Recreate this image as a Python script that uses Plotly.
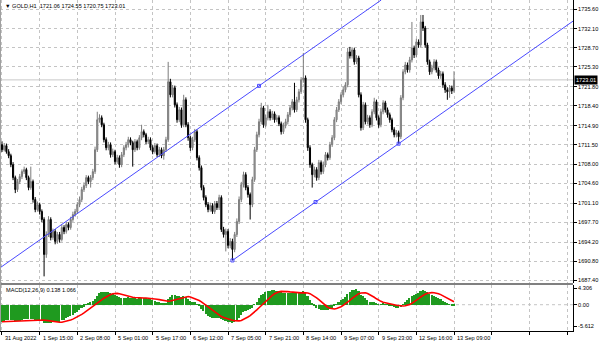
import plotly.graph_objects as go

# ---------------- data ----------------
symbol = "GOLD,H1"
time_labels = ["31 Aug 2022", "1 Sep 15:00", "2 Sep 08:00", "5 Sep 01:00", "5 Sep 17:00",
               "6 Sep 12:00", "7 Sep 05:00", "7 Sep 21:00", "8 Sep 14:00", "9 Sep 07:00",
               "9 Sep 23:00", "12 Sep 16:00", "13 Sep 09:00"]
bars_per_label = 17
price_ticks = [1735.60, 1732.10, 1728.70, 1725.30, 1721.80, 1718.40, 1714.90, 1711.50,
               1708.00, 1704.60, 1701.10, 1697.70, 1694.20, 1690.80, 1687.40]
macd_ticks = [4.306, 0.0, -5.612]
macd_label = "MACD(12,26,9) 0.138 1.066"

opens = [
    1711.50, 1710.61, 1711.33, 1710.26, 1709.55, 1707.95, 1705.65, 1703.53, 1704.95, 1705.83,
    1706.72, 1707.07, 1705.65, 1703.88, 1704.95, 1701.75, 1699.98, 1700.86, 1699.63, 1698.21,
    1692.00, 1695.55, 1698.21, 1695.02, 1696.09, 1694.32, 1695.55, 1694.67, 1696.79, 1696.09,
    1697.32, 1696.79, 1698.21, 1699.09, 1699.63, 1700.86, 1701.75, 1703.53, 1704.24, 1705.65,
    1704.95, 1705.65, 1706.72, 1710.61, 1715.93, 1716.28, 1715.04, 1712.39, 1710.97, 1711.50,
    1709.72, 1710.26, 1708.49, 1709.19, 1707.95, 1709.72, 1710.97, 1711.50, 1712.39, 1711.86,
    1710.61, 1712.04, 1710.97, 1712.74, 1713.81, 1713.27, 1712.04, 1712.39, 1710.97, 1710.26,
    1711.33, 1709.72, 1710.61, 1709.55, 1710.61, 1712.39, 1722.67, 1720.36, 1721.60, 1718.58,
    1715.93, 1717.70, 1715.04, 1719.47, 1715.04, 1712.74, 1710.97, 1712.39, 1713.81, 1709.19,
    1707.42, 1703.88, 1702.11, 1700.86, 1699.98, 1700.69, 1699.63, 1701.04, 1700.33, 1702.11,
    1696.44, 1695.55, 1696.09, 1693.61, 1694.32, 1692.89, 1695.55, 1697.86, 1701.75, 1704.41,
    1706.18, 1703.88, 1702.64, 1700.86, 1705.30, 1710.61, 1713.27, 1715.58, 1718.05, 1715.04,
    1716.28, 1717.35, 1716.28, 1716.99, 1715.93, 1716.28, 1715.22, 1713.81, 1714.87, 1715.58,
    1716.81, 1718.05, 1719.12, 1717.70, 1719.47, 1720.90, 1723.02, 1723.37, 1715.93, 1710.97,
    1707.95, 1706.18, 1707.07, 1705.65, 1708.31, 1706.72, 1707.95, 1709.72, 1709.19, 1711.50,
    1712.74, 1715.93, 1717.70, 1719.12, 1720.36, 1721.25, 1722.13, 1727.98, 1727.27, 1728.33,
    1726.21, 1726.91, 1720.36, 1714.51, 1718.58, 1715.58, 1716.28, 1715.04, 1717.35, 1719.12,
    1716.28, 1715.04, 1717.35, 1718.94, 1717.70, 1716.81, 1715.93, 1714.16, 1713.27, 1713.63,
    1712.92, 1719.83, 1724.44, 1725.67, 1724.79, 1726.56, 1728.69, 1727.44, 1729.76, 1729.22,
    1733.30, 1732.23, 1729.22, 1726.21, 1724.44, 1725.14, 1726.21, 1724.79, 1723.73, 1724.08,
    1722.13, 1721.25, 1720.90, 1721.60, 1721.06]

highs = [
    1712.10, 1711.80, 1711.70, 1710.70, 1709.90, 1708.40, 1706.00, 1705.40, 1706.30, 1707.10,
    1707.60, 1707.40, 1706.00, 1707.60, 1705.30, 1702.20, 1701.40, 1701.20, 1700.00, 1698.60,
    1696.10, 1698.80, 1698.60, 1696.60, 1696.50, 1696.00, 1696.00, 1697.30, 1697.20, 1697.80,
    1697.70, 1698.70, 1699.60, 1700.10, 1701.30, 1702.30, 1704.00, 1704.80, 1706.10, 1706.00,
    1706.10, 1707.20, 1711.15, 1717.35, 1716.90, 1716.70, 1715.40, 1712.80, 1712.00, 1711.90,
    1710.80, 1710.60, 1709.70, 1709.60, 1710.20, 1711.40, 1712.00, 1712.90, 1712.80, 1712.20,
    1712.50, 1712.40, 1713.20, 1715.04, 1714.20, 1713.60, 1712.90, 1712.80, 1711.40, 1711.80,
    1711.70, 1711.10, 1711.00, 1711.10, 1712.90, 1726.21, 1723.20, 1722.10, 1722.00, 1719.00,
    1718.20, 1718.10, 1720.36, 1719.90, 1715.50, 1713.10, 1712.90, 1714.30, 1714.20, 1709.60,
    1707.80, 1704.30, 1702.50, 1701.30, 1701.20, 1701.10, 1701.50, 1701.50, 1702.60, 1702.50,
    1696.90, 1696.60, 1696.50, 1694.90, 1694.80, 1696.00, 1698.40, 1702.30, 1704.90, 1706.70,
    1706.60, 1704.30, 1703.00, 1705.80, 1711.10, 1713.80, 1716.10, 1718.94, 1718.40, 1716.80,
    1718.58, 1717.80, 1717.50, 1717.40, 1716.80, 1716.70, 1715.60, 1715.40, 1716.10, 1717.30,
    1718.50, 1719.60, 1722.49, 1720.00, 1721.40, 1723.50, 1727.80, 1723.80, 1716.30, 1711.40,
    1708.30, 1707.60, 1707.50, 1708.80, 1708.70, 1708.50, 1710.20, 1710.10, 1712.00, 1713.20,
    1716.40, 1718.20, 1719.60, 1720.80, 1721.80, 1722.60, 1728.69, 1728.87, 1728.80, 1728.70,
    1727.40, 1727.30, 1720.80, 1719.10, 1719.00, 1716.80, 1716.70, 1717.80, 1719.83, 1719.50,
    1716.70, 1717.90, 1719.40, 1719.30, 1718.10, 1717.20, 1716.30, 1714.60, 1714.10, 1714.00,
    1720.30, 1724.90, 1726.20, 1726.10, 1727.10, 1733.30, 1729.10, 1730.30, 1730.20, 1734.54,
    1734.54, 1732.60, 1729.60, 1726.60, 1725.70, 1726.70, 1726.60, 1725.20, 1724.60, 1724.50,
    1722.60, 1721.70, 1722.10, 1722.00, 1724.55]

lows = [
    1710.20, 1710.30, 1709.90, 1709.10, 1707.50, 1705.20, 1702.90, 1703.10, 1704.50, 1705.40,
    1706.30, 1705.20, 1703.40, 1703.50, 1701.20, 1699.50, 1699.60, 1699.10, 1697.70, 1688.11,
    1691.40, 1695.10, 1694.50, 1694.60, 1693.80, 1693.90, 1694.10, 1694.30, 1695.60, 1695.70,
    1696.30, 1696.40, 1697.80, 1698.70, 1699.20, 1700.40, 1701.30, 1703.10, 1703.80, 1704.50,
    1703.88, 1705.20, 1706.30, 1710.20, 1715.40, 1714.60, 1711.90, 1710.50, 1710.50, 1709.20,
    1709.30, 1708.00, 1708.10, 1707.40, 1707.50, 1709.30, 1710.50, 1711.00, 1711.40, 1707.60,
    1710.20, 1710.50, 1710.60, 1712.30, 1712.80, 1711.60, 1711.60, 1710.50, 1709.80, 1709.90,
    1709.30, 1709.30, 1709.10, 1708.84, 1710.20, 1712.00, 1719.90, 1719.90, 1718.10, 1715.40,
    1715.50, 1714.50, 1714.60, 1714.60, 1712.20, 1710.40, 1710.50, 1712.00, 1708.70, 1706.90,
    1703.40, 1701.60, 1700.40, 1699.50, 1699.60, 1699.20, 1699.20, 1699.90, 1699.90, 1696.00,
    1695.00, 1692.54, 1693.10, 1693.10, 1690.94, 1692.40, 1695.10, 1697.40, 1701.30, 1703.90,
    1703.40, 1702.10, 1698.21, 1700.40, 1704.90, 1710.20, 1712.80, 1715.10, 1714.50, 1714.60,
    1715.80, 1715.80, 1715.90, 1715.40, 1715.50, 1714.80, 1713.30, 1713.40, 1714.40, 1715.10,
    1716.40, 1717.60, 1717.20, 1717.30, 1719.00, 1720.50, 1722.50, 1715.40, 1710.40, 1707.40,
    1703.88, 1705.70, 1705.10, 1705.20, 1706.20, 1706.30, 1707.50, 1708.70, 1708.80, 1711.10,
    1712.30, 1715.50, 1717.30, 1718.70, 1719.90, 1720.80, 1721.70, 1726.80, 1726.80, 1725.70,
    1725.80, 1719.90, 1714.00, 1714.10, 1715.10, 1715.10, 1714.50, 1714.60, 1716.90, 1715.80,
    1714.50, 1714.60, 1716.90, 1717.20, 1716.30, 1715.40, 1713.70, 1712.80, 1712.80, 1711.68,
    1712.50, 1719.40, 1724.00, 1724.30, 1724.30, 1726.10, 1726.90, 1727.00, 1728.70, 1728.80,
    1731.70, 1728.70, 1725.70, 1723.90, 1724.00, 1724.70, 1724.30, 1723.20, 1723.20, 1721.60,
    1720.70, 1719.47, 1719.83, 1720.50, 1720.75]

closes = [
    1710.61, 1711.33, 1710.26, 1709.55, 1707.95, 1705.65, 1703.53, 1704.95, 1705.83, 1706.72,
    1707.07, 1705.65, 1703.88, 1704.95, 1701.75, 1699.98, 1700.86, 1699.63, 1698.21, 1692.00,
    1695.55, 1698.21, 1695.02, 1696.09, 1694.32, 1695.55, 1694.67, 1696.79, 1696.09, 1697.32,
    1696.79, 1698.21, 1699.09, 1699.63, 1700.86, 1701.75, 1703.53, 1704.24, 1705.65, 1704.95,
    1705.65, 1706.72, 1710.61, 1715.93, 1716.28, 1715.04, 1712.39, 1710.97, 1711.50, 1709.72,
    1710.26, 1708.49, 1709.19, 1707.95, 1709.72, 1710.97, 1711.50, 1712.39, 1711.86, 1710.61,
    1712.04, 1710.97, 1712.74, 1713.81, 1713.27, 1712.04, 1712.39, 1710.97, 1710.26, 1711.33,
    1709.72, 1710.61, 1709.55, 1710.61, 1712.39, 1722.67, 1720.36, 1721.60, 1718.58, 1715.93,
    1717.70, 1715.04, 1719.47, 1715.04, 1712.74, 1710.97, 1712.39, 1713.81, 1709.19, 1707.42,
    1703.88, 1702.11, 1700.86, 1699.98, 1700.69, 1699.63, 1701.04, 1700.33, 1702.11, 1696.44,
    1695.55, 1696.09, 1693.61, 1694.32, 1692.89, 1695.55, 1697.86, 1701.75, 1704.41, 1706.18,
    1703.88, 1702.64, 1700.86, 1705.30, 1710.61, 1713.27, 1715.58, 1718.05, 1715.04, 1716.28,
    1717.35, 1716.28, 1716.99, 1715.93, 1716.28, 1715.22, 1713.81, 1714.87, 1715.58, 1716.81,
    1718.05, 1719.12, 1717.70, 1719.47, 1720.90, 1723.02, 1723.37, 1715.93, 1710.97, 1707.95,
    1706.18, 1707.07, 1705.65, 1708.31, 1706.72, 1707.95, 1709.72, 1709.19, 1711.50, 1712.74,
    1715.93, 1717.70, 1719.12, 1720.36, 1721.25, 1722.13, 1727.98, 1727.27, 1728.33, 1726.21,
    1726.91, 1720.36, 1714.51, 1718.58, 1715.58, 1716.28, 1715.04, 1717.35, 1719.12, 1716.28,
    1715.04, 1717.35, 1718.94, 1717.70, 1716.81, 1715.93, 1714.16, 1713.27, 1713.63, 1712.92,
    1719.83, 1724.44, 1725.67, 1724.79, 1726.56, 1728.69, 1727.44, 1729.76, 1729.22, 1733.30,
    1732.23, 1729.22, 1726.21, 1724.44, 1725.14, 1726.21, 1724.79, 1723.73, 1724.08, 1722.13,
    1721.25, 1720.90, 1721.60, 1721.06, 1723.01]

# equidistant channel anchors (bar index, price)
channel_bars = [104, 179]
channel_prices = [1690.94, 1711.68]
channel_upper_bar = 116
channel_upper_price = 1721.95

# MACD(12,26,9) settings and the indicator state just before the first visible bar
macd_fast, macd_slow, macd_signal_len = 12, 26, 9
ema_fast_seed, ema_slow_seed, signal_seed = 1713.0, 1717.5, -4.4

# ---------------- indicator ----------------
def ema(values, period, seed):
    k = 2.0 / (period + 1)
    out, e = [], seed
    for v in values:
        e = e + k * (v - e)
        out.append(e)
    return out

ef = ema(closes, macd_fast, ema_fast_seed)
es = ema(closes, macd_slow, ema_slow_seed)
macd = [a - b for a, b in zip(ef, es)]
hist_ext = [signal_seed] * (macd_signal_len - 1) + macd
signal = [sum(hist_ext[i:i + macd_signal_len]) / macd_signal_len for i in range(len(macd))]

# ---------------- layout geometry (pixels) ----------------
W, H = 600, 344
plot_right = 573
main_bottom = 283
macd_top, macd_bottom = 285, 331
x_range = [-0.9, 257.7]
price_range = [1686.93, 1737.20]
macd_range = [-6.8, 5.1]

def py(p):  # pixel row -> paper y
    return 1 - p / H

idx = list(range(len(closes)))
grid_x = list(range(0, int(x_range[1]) + 1, bars_per_label))
label_x = [i * bars_per_label for i in range(len(time_labels))]
FONT = "Liberation Sans, Arial, sans-serif"
FS = 5.6
GRID = "#c4c4c4"
BLUE = "#4a4aff"

fig = go.Figure()

fig.add_trace(go.Candlestick(
    x=idx, open=opens, high=highs, low=lows, close=closes,
    increasing=dict(line=dict(color="#7c7c7c", width=1), fillcolor="#a8a8a8"),
    decreasing=dict(line=dict(color="#000000", width=1), fillcolor="#000000"),
    whiskerwidth=0, hoverinfo="skip", showlegend=False, xaxis="x", yaxis="y"))

# channel lines
slope = (channel_prices[1] - channel_prices[0]) / (channel_bars[1] - channel_bars[0])
lx = [channel_bars[0], x_range[1]]
ly = [channel_prices[0] + slope * (x - channel_bars[0]) for x in lx]
ux_top = channel_upper_bar + (price_range[1] - channel_upper_price) / slope
ux = [x_range[0], ux_top]
uy = [channel_upper_price + slope * (x - channel_upper_bar) for x in ux]
for xs, ys in ((lx, ly), (ux, uy)):
    fig.add_trace(go.Scatter(x=xs, y=ys, mode="lines", line=dict(color=BLUE, width=1),
                             hoverinfo="skip", showlegend=False, xaxis="x", yaxis="y"))
mid_bar = (channel_bars[0] + channel_bars[1]) / 2
mx = [channel_bars[0], mid_bar, channel_bars[1], channel_upper_bar]
my = [channel_prices[0], (channel_prices[0] + channel_prices[1]) / 2, channel_prices[1], channel_upper_price]
fig.add_trace(go.Scatter(x=mx, y=my, mode="markers",
                         marker=dict(symbol="square-open", size=3, color=BLUE, line=dict(width=1)),
                         hoverinfo="skip", showlegend=False, xaxis="x", yaxis="y"))

# MACD
fig.add_trace(go.Bar(x=idx, y=macd, marker=dict(color="#1f9a1f", line=dict(width=0)), width=0.72,
                     hoverinfo="skip", showlegend=False, xaxis="x2", yaxis="y2"))
fig.add_trace(go.Scatter(x=idx, y=signal, mode="lines", line=dict(color="#ff0000", width=1.6),
                         hoverinfo="skip", showlegend=False, xaxis="x2", yaxis="y2"))

axis_common = dict(showgrid=True, gridcolor=GRID, griddash="3px,3px", gridwidth=1, zeroline=False)
fig.update_layout(
    width=W, height=H, margin=dict(l=0, r=0, t=0, b=0),
    paper_bgcolor="white", plot_bgcolor="white",
    font=dict(family=FONT, size=FS, color="black"),
    showlegend=False, bargap=0,
    xaxis=dict(domain=[0, plot_right / W], range=x_range, anchor="y", tickvals=grid_x,
               showticklabels=False, ticks="", rangeslider=dict(visible=False), **axis_common),
    yaxis=dict(domain=[py(main_bottom), 1], range=price_range, anchor="x", side="right",
               tickvals=price_ticks, ticktext=[f"{v:.2f}" for v in price_ticks],
               ticks="outside", ticklen=3, tickcolor="black", showline=True, linecolor="black",
               linewidth=1, tickfont=dict(size=FS), **axis_common),
    xaxis2=dict(domain=[0, plot_right / W], range=x_range, anchor="y2", tickvals=grid_x,
                showticklabels=False, ticks="outside", ticklen=3, tickcolor="black",
                showline=True, linecolor="black", linewidth=1, **axis_common),
    yaxis2=dict(domain=[py(macd_bottom), py(macd_top)], range=macd_range, anchor="x2", side="right",
                tickvals=macd_ticks, ticktext=[f"{v:.3f}" if v else "0.00" for v in macd_ticks],
                ticks="outside", ticklen=3, tickcolor="black", showline=True, linecolor="black",
                linewidth=1, showgrid=False, zeroline=False, tickfont=dict(size=FS)),
)

shapes = [
    dict(type="line", xref="x", yref="y", x0=x_range[0], x1=x_range[1], y0=closes[-1], y1=closes[-1],
         line=dict(color="#c8c8c8", width=1), layer="below"),
    dict(type="line", xref="x2", yref="y2", x0=x_range[0], x1=x_range[1], y0=0, y1=0,
         line=dict(color=GRID, width=1, dash="3px,3px"), layer="below"),
    dict(type="line", xref="paper", yref="paper", x0=0, x1=plot_right / W,
         y0=py(main_bottom + 0.5), y1=py(main_bottom + 0.5), line=dict(color="#808080", width=1)),
    dict(type="line", xref="paper", yref="paper", x0=0, x1=plot_right / W,
         y0=py(macd_top - 0.5), y1=py(macd_top - 0.5), line=dict(color="#808080", width=1)),
    dict(type="line", xref="paper", yref="paper", x0=0.5 / W, x1=0.5 / W, y0=py(macd_bottom), y1=1,
         line=dict(color="#a0a0a0", width=1)),
]
fig.update_layout(shapes=shapes)

ann = []
header = f"\u25bc {symbol}  {opens[-1]:.2f} {highs[-1]:.2f} {lows[-1]:.2f} {closes[-1]:.2f}"
ann.append(dict(xref="paper", yref="paper", x=3 / W, y=py(6), text=header, showarrow=False,
                xanchor="left", yanchor="middle", font=dict(size=FS)))
ann.append(dict(xref="paper", yref="paper", x=4 / W, y=py(290), text=macd_label, showarrow=False,
                xanchor="left", yanchor="middle", font=dict(size=FS)))
for xv, t in zip(label_x, time_labels):
    ann.append(dict(xref="x2", yref="paper", x=xv, y=py(337.5), text=t, showarrow=False,
                    xanchor="left", yanchor="middle", xshift=1, font=dict(size=FS)))
ann.append(dict(xref="paper", yref="y", x=(plot_right + 1) / W, y=closes[-1], text=f"{closes[-1]:.2f}",
                showarrow=False, xanchor="left", yanchor="middle", bgcolor="black",
                font=dict(size=FS, color="white"), borderpad=1))
fig.update_layout(annotations=ann)

fig.write_html("out.html")
